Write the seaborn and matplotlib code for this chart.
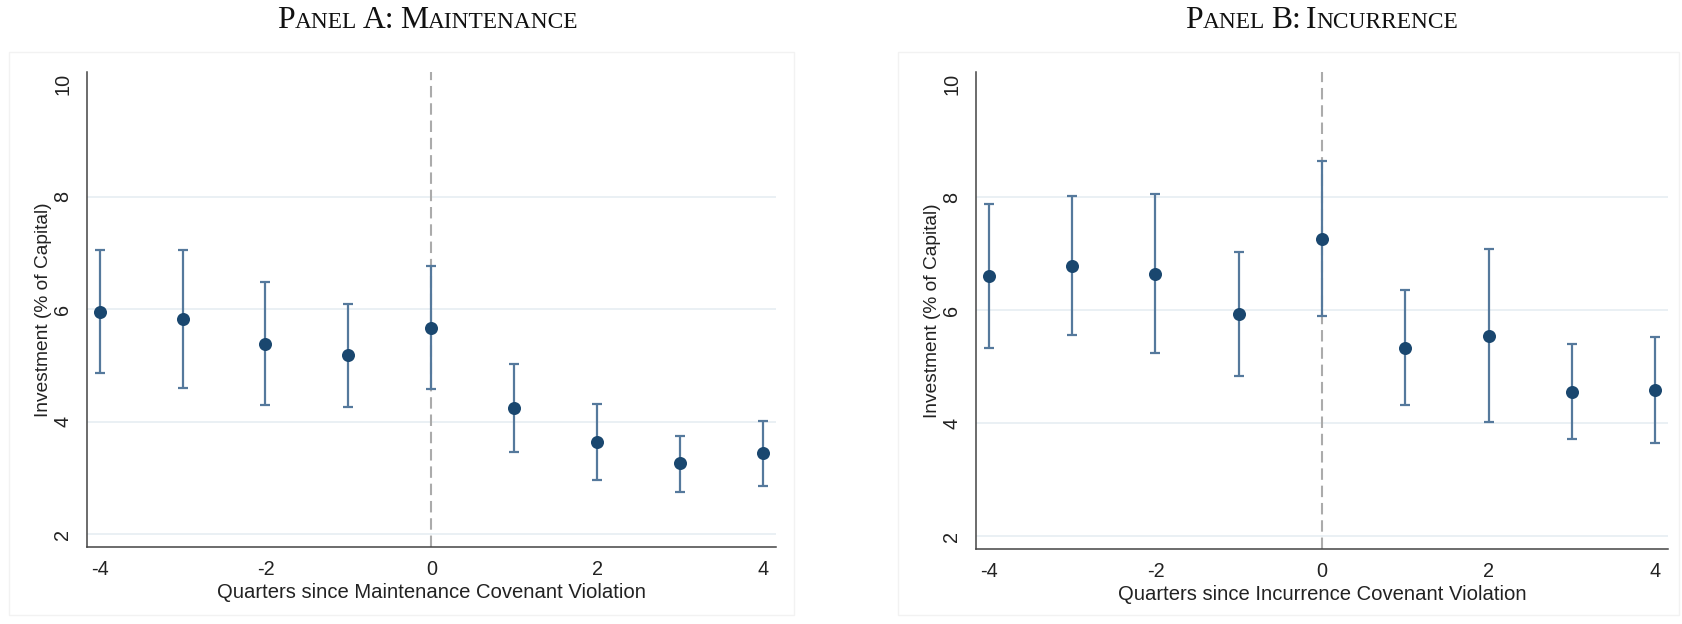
import matplotlib
matplotlib.use("Agg")
import matplotlib.pyplot as plt
from matplotlib.patches import Rectangle
import pandas as pd
import seaborn as sns

# Event-time estimates
quarters = [-4, -3, -2, -1, 0, 1, 2, 3, 4]

maint_est = [5.95, 5.82, 5.39, 5.18, 5.67, 4.24, 3.64, 3.26, 3.44]
maint_lo = [4.86, 4.60, 4.30, 4.26, 4.58, 3.46, 2.96, 2.76, 2.86]
maint_hi = [7.06, 7.05, 6.49, 6.10, 6.77, 5.02, 4.32, 3.75, 4.02]

incur_est = [6.61, 6.79, 6.65, 5.93, 7.27, 5.34, 5.55, 4.56, 4.59]
incur_lo = [5.33, 5.57, 5.24, 4.84, 5.90, 4.32, 4.02, 3.72, 3.65]
incur_hi = [7.89, 8.02, 8.06, 7.04, 8.64, 6.36, 7.08, 5.40, 5.53]

panel_titles = ["Panel A: Maintenance", "Panel B: Incurrence"]
x_labels = ["Quarters since Maintenance Covenant Violation",
            "Quarters since Incurrence Covenant Violation"]
y_label = "Investment (% of Capital)"
y_ticks = [2, 4, 6, 8, 10]
x_ticks = [-4, -2, 0, 2, 4]

navy = "#1a476f"
bar_col = "#55799c"
grid_col = "#e6eef2"

sns.set_theme(style="white")
plt.rcParams["font.family"] = ["Liberation Sans", "DejaVu Sans"]

W, H = 1682, 624
fig = plt.figure(figsize=(W / 100, H / 100), dpi=100)

# faint outer boxes around each panel (Stata graph region)
for x0, x1 in [(9, 794), (898, 1679)]:
    fig.patches.append(Rectangle((x0 / W, 1 - 615 / H), (x1 - x0) / W, (615 - 52) / H,
                                 transform=fig.transFigure, fill=False,
                                 edgecolor="#f2f2f2", lw=1))

ax_a = fig.add_axes([86.7 / W, 1 - 547.3 / H, (776 - 86.7) / W, (547.3 - 72) / H])
ax_b = fig.add_axes([976 / W, 1 - 549.4 / H, (1668 - 976) / W, (549.4 - 72) / H])

panels = [(ax_a, maint_est, maint_lo, maint_hi), (ax_b, incur_est, incur_lo, incur_hi)]

for i, (ax, est, lo, hi) in enumerate(panels):
    df = pd.DataFrame({"q": quarters, "est": est, "lo": lo, "hi": hi})
    for g in y_ticks[:-1]:
        ax.axhline(g, color=grid_col, lw=1.2, zorder=0)
    ax.axvline(0, color="#ababab", lw=1.5, ls=(0, (5.5, 2.8)), zorder=1)
    ax.errorbar(df["q"], df["est"],
                yerr=[df["est"] - df["lo"], df["hi"] - df["est"]],
                fmt="none", ecolor=bar_col, elinewidth=1.6, capsize=3.4,
                capthick=1.6, zorder=2)
    sns.scatterplot(data=df, x="q", y="est", ax=ax, color=navy, s=88,
                    edgecolor=navy, linewidth=0, zorder=3)

    ax.set_xlim(-4.155, 4.155)
    ax.set_ylim(1.77, 10.22)
    ax.set_xticks(x_ticks)
    ax.set_xticklabels([str(v) for v in x_ticks])
    ax.set_yticks(y_ticks)
    ax.set_yticklabels([str(v) for v in y_ticks], rotation=90, va="center")
    ax.tick_params(axis="both", direction="out", length=5.5, width=1,
                   color="#444444", labelsize=14.3, labelcolor="#222222")
    ax.tick_params(axis="x", pad=3.5)
    ax.tick_params(axis="y", pad=5)
    for s in ["top", "right"]:
        ax.spines[s].set_visible(False)
    for s in ["left", "bottom"]:
        ax.spines[s].set_color("#444444")
        ax.spines[s].set_linewidth(1.1)
    ax.set_xlabel(x_labels[i], fontsize=14.6, color="#222222", labelpad=3)
    ax.set_ylabel(y_label, fontsize=13.8, color="#222222", labelpad=1)


def smallcaps(fig, xc_px, base_px, text, big=22.8, small=16.8):
    # fake small caps: first letter of each word full size, the rest smaller capitals
    parts = []
    for wi, word in enumerate(text.split(" ")):
        if wi:
            parts.append((" ", big))
        for j, ch in enumerate(word):
            if j == 0 or not ch.isalpha():
                parts.append((ch.upper(), big))
            else:
                parts.append((ch.upper(), small))
    merged = []
    for s, sz in parts:
        if merged and merged[-1][1] == sz and s != " " and merged[-1][0] != " ":
            merged[-1] = (merged[-1][0] + s, sz)
        else:
            merged.append((s, sz))
    r = fig.canvas.get_renderer()
    texts, widths = [], []
    for s, sz in merged:
        if s == " ":
            a = fig.text(0, 0, "a a", fontsize=sz, family="Liberation Serif")
            b = fig.text(0, 0, "aa", fontsize=sz, family="Liberation Serif")
            w = a.get_window_extent(r).width - b.get_window_extent(r).width
            a.remove(); b.remove()
            texts.append(None); widths.append(w * 0.7)
        else:
            t = fig.text(0, 1 - base_px / H, s, fontsize=sz, family="Liberation Serif",
                         color="#111111", va="baseline", ha="left")
            texts.append(t); widths.append(t.get_window_extent(r).width)
    x = xc_px - sum(widths) / 2
    for t, w in zip(texts, widths):
        if t is not None:
            t.set_x(x / W)
        x += w


fig.canvas.draw()
smallcaps(fig, 428, 28.5, panel_titles[0])
smallcaps(fig, 1322, 28.5, panel_titles[1])

fig.savefig("out.png", dpi=100)
